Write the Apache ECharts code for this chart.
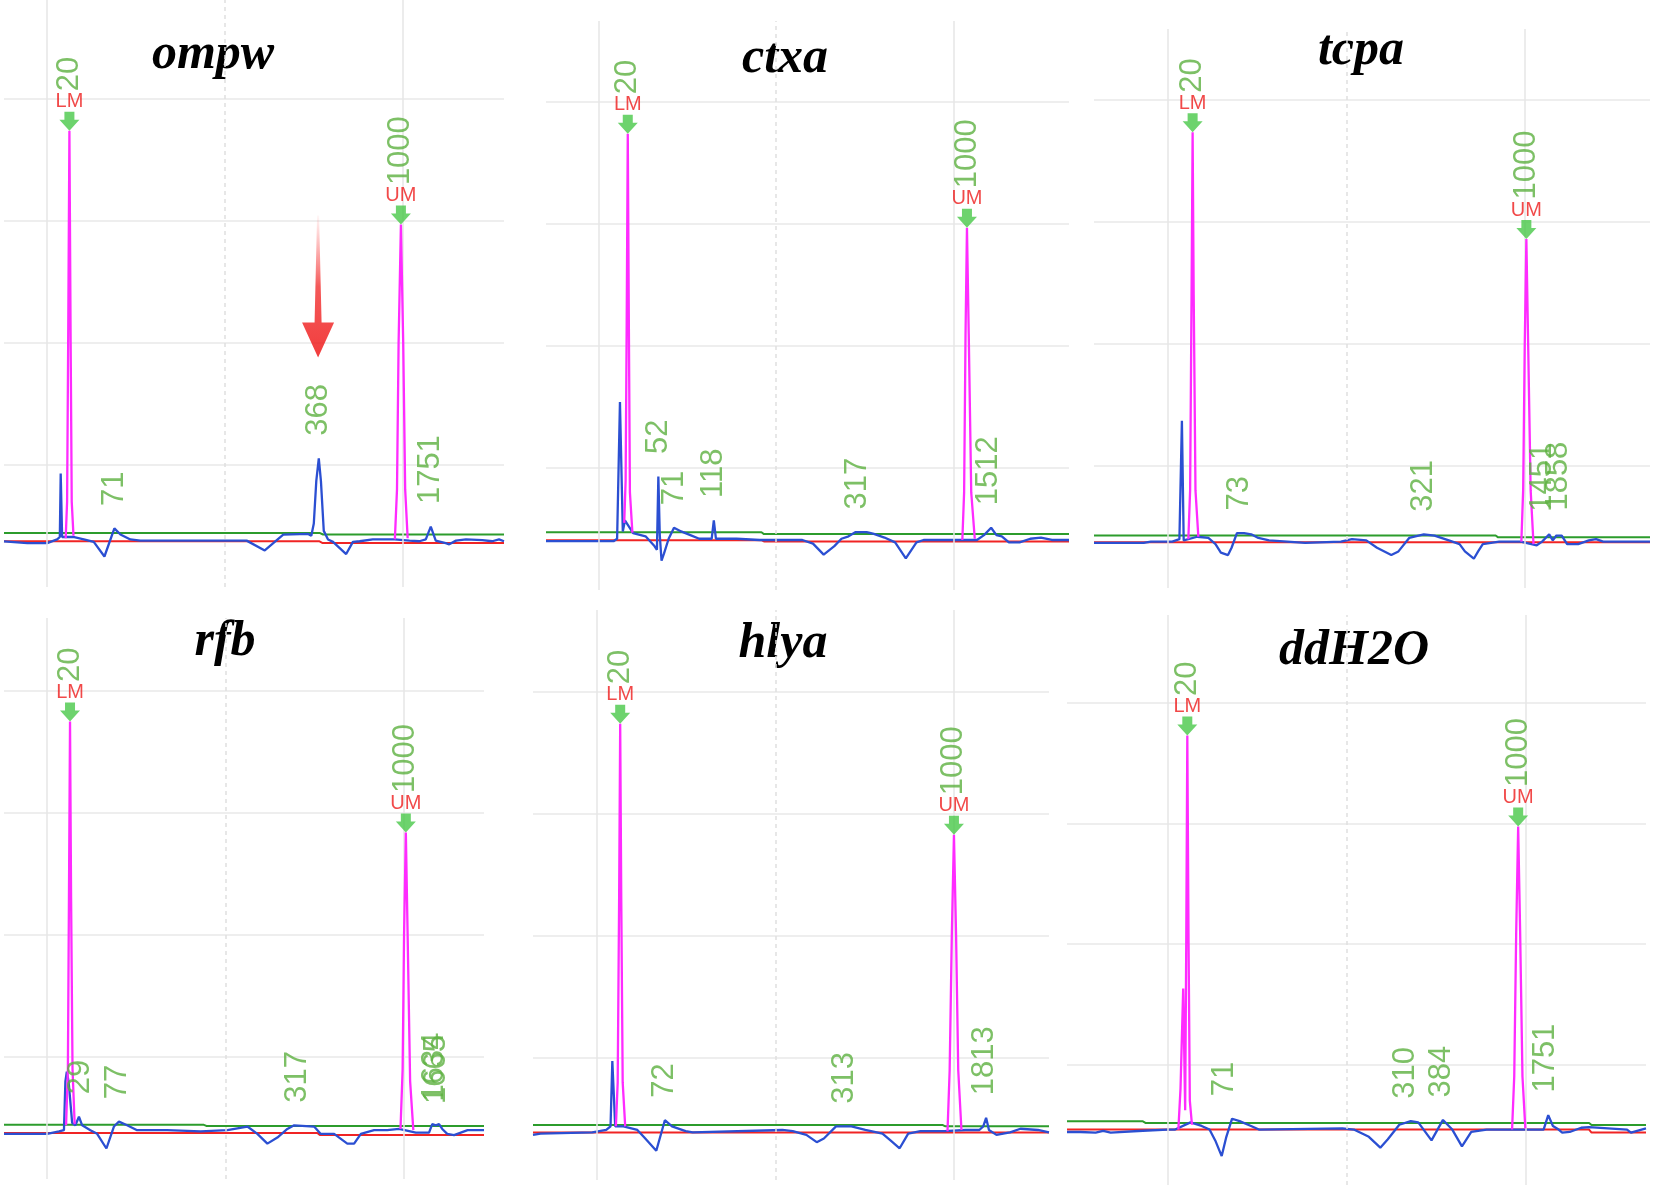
<!DOCTYPE html>
<html>
<head>
<meta charset="utf-8">
<title>Electropherograms</title>
<script src="https://cdn.jsdelivr.net/npm/echarts@6/dist/echarts.min.js"></script>
<style>
    html, body { margin: 0; padding: 0; background: #fff; }
    #chart { width: 1653px; height: 1185px; }
</style>
</head>
<body>
<div id="chart"></div>
<script>
// ---- data (x: migration time, y: fluorescence, one grid step = 1) ----
var panelNames = ['ompw', 'ctxa', 'tcpa', 'rfb', 'hlya', 'ddH2O'];
var xRanges = [[87.85, 228.5], [85.3, 232.4], [79.4, 235.0], [87.9, 222.4], [82.2, 226.6], [71.9, 233.6]];
var yMaxes = [4.811, 4.664, 4.582, 4.598, 4.672, 4.730];
var vGridMajor = [100, 200];
var vGridMinor = [150];

// ompw
var ompwBlue = [[87.85,0.374],[94.4,0.36],[100,0.36],[102.8,0.39],[103.55,0.41],[103.8,0.93],[104.2,0.41],[105.6,0.41],[107.3,0.41],[110.3,0.39],[113.1,0.37],[116.1,0.25],[118.9,0.48],[120.6,0.43],[123.4,0.39],[126.2,0.38],[156.1,0.38],[161.2,0.30],[166.4,0.43],[173.4,0.435],[174.3,0.42],[175.0,0.52],[175.7,0.87],[176.4,1.055],[177.0,0.87],[177.8,0.46],[179.0,0.39],[180.4,0.37],[184.1,0.27],[186.0,0.37],[187.9,0.375],[191.6,0.39],[197.7,0.39],[201.9,0.38],[204.7,0.375],[206.5,0.39],[207.9,0.495],[209.3,0.38],[212.1,0.36],[213.1,0.35],[215.0,0.38],[217.8,0.39],[222.4,0.385],[225.2,0.375],[227.1,0.39],[228.5,0.375]];
var ompwLM = [[105.2,0.40],[105.6,0.7],[105.9,2.0],[106.25,3.74],[106.6,2.0],[106.9,0.7],[107.4,0.42]];
var ompwUM = [[197.8,0.39],[198.4,0.8],[198.85,2.0],[199.5,2.97],[200.15,2.0],[200.7,0.8],[201.4,0.40]];
var ompwGreen = [[87.85,0.443],[176.6,0.443],[177.6,0.43],[228.5,0.43]];
var ompwRed = [[87.85,0.374],[176.6,0.374],[177.5,0.36],[228.5,0.36]];
var ompwPeaks = [[118.9,0.48,'71'],[176.4,1.055,'368'],[207.9,0.495,'1751']];
var ompwArrow = [176.2, 1.88];

// ctxa
var ctxaBlue = [[85.3,0.40],[104.3,0.40],[105.3,0.42],[106.1,1.54],[106.5,1.54],[106.9,0.48],[107.5,0.57],[109.8,0.467],[113.3,0.44],[115.8,0.36],[116.5,0.33],[116.9,0.93],[117.3,0.45],[117.8,0.24],[118.5,0.30],[119.8,0.42],[121.3,0.51],[123.3,0.48],[125.9,0.45],[128.4,0.42],[131.9,0.42],[132.5,0.57],[133.1,0.42],[138.9,0.42],[145.4,0.41],[153.4,0.41],[157.4,0.41],[160.4,0.38],[163.4,0.29],[166.4,0.36],[168.4,0.42],[170.4,0.44],[172.4,0.475],[175.5,0.475],[177.5,0.46],[180.5,0.43],[183.5,0.39],[186.5,0.26],[189.5,0.39],[191.5,0.41],[201.5,0.41],[206.5,0.41],[208.5,0.45],[210.5,0.51],[212.0,0.45],[213.5,0.44],[215.5,0.39],[218.5,0.39],[221.5,0.42],[224.5,0.43],[227.6,0.41],[230.6,0.41],[232.4,0.41]];
var ctxaLM = [[107.3,0.55],[107.7,0.9],[108.0,2.2],[108.3,3.74],[108.6,2.2],[108.9,0.8],[109.6,0.47]];
var ctxaUM = [[202.4,0.41],[202.9,0.8],[203.3,2.1],[203.7,2.97],[204.2,2.1],[204.9,0.8],[205.9,0.42]];
var ctxaGreen = [[85.3,0.473],[145.9,0.473],[146.6,0.458],[232.4,0.458]];
var ctxaRed = [[85.3,0.407],[146.0,0.407],[146.6,0.398],[232.4,0.398]];
var ctxaPeaks = [[116.9,0.93,'52'],[121.3,0.51,'71'],[132.5,0.57,'118'],[173.0,0.475,'317'],[209.8,0.51,'1512']];

// tcpa
var tcpaBlue = [[79.4,0.37],[93.3,0.37],[95.3,0.38],[101.3,0.38],[103.3,0.40],[104.0,1.37],[104.5,0.39],[108.3,0.42],[111.4,0.41],[113.4,0.36],[114.9,0.29],[116.9,0.27],[117.9,0.33],[119.4,0.45],[121.4,0.45],[123.4,0.44],[125.4,0.41],[128.4,0.39],[138.5,0.37],[148.5,0.38],[151.6,0.40],[155.6,0.39],[158.6,0.33],[162.6,0.27],[164.6,0.30],[167.6,0.41],[171.7,0.44],[174.7,0.43],[178.7,0.39],[181.7,0.36],[183.2,0.30],[185.7,0.24],[186.9,0.30],[188.2,0.36],[192.8,0.38],[198.8,0.38],[203.3,0.35],[204.8,0.38],[206.8,0.44],[207.8,0.39],[208.8,0.43],[210.3,0.43],[211.8,0.36],[214.9,0.36],[217.9,0.39],[219.9,0.40],[221.9,0.38],[235.0,0.38]];
var tcpaLM = [[105.8,0.40],[106.3,0.8],[106.7,2.4],[107.0,3.735],[107.3,2.4],[107.8,0.8],[108.6,0.42]];
var tcpaUM = [[199.0,0.38],[199.5,0.8],[199.95,2.0],[200.4,2.86],[200.9,2.0],[201.6,0.8],[202.4,0.36]];
var tcpaGreen = [[79.4,0.43],[191.8,0.43],[192.5,0.415],[235.0,0.415]];
var tcpaRed = [[79.4,0.376],[235.0,0.376]];
var tcpaPeaks = [[120.0,0.45,'73'],[171.5,0.44,'321'],[205.0,0.44,'1451'],[209.4,0.45,'1858']];

// rfb
var rfbBlue = [[87.9,0.37],[94.4,0.37],[100,0.37],[103.3,0.39],[104.7,0.40],[105.1,0.80],[105.5,0.88],[106.0,0.80],[107.0,0.46],[107.9,0.44],[108.9,0.51],[109.8,0.44],[112.1,0.40],[114.0,0.37],[116.6,0.25],[118.7,0.43],[120.1,0.47],[122.4,0.44],[125.2,0.40],[133.6,0.40],[143.0,0.39],[150.5,0.40],[156.1,0.43],[158.9,0.37],[161.7,0.29],[164.5,0.34],[167.3,0.41],[169.2,0.44],[174.8,0.43],[176.6,0.37],[180.4,0.37],[184.1,0.29],[186.0,0.29],[187.9,0.37],[191.6,0.40],[195.3,0.40],[198.6,0.41],[203.3,0.38],[207.0,0.38],[207.9,0.45],[208.9,0.44],[209.8,0.45],[210.7,0.41],[212.1,0.37],[214.0,0.36],[215.9,0.38],[217.8,0.40],[222.4,0.40]];
var rfbLM = [[105.3,0.44],[105.8,0.9],[106.1,2.3],[106.4,3.75],[106.7,2.3],[107.1,0.9],[107.7,0.45]];
var rfbUM = [[199.0,0.41],[199.6,0.9],[200.0,2.0],[200.5,2.84],[201.0,2.0],[201.7,0.8],[202.6,0.40]];
var rfbGreen = [[87.9,0.444],[143.9,0.444],[144.6,0.435],[222.4,0.435]];
var rfbRed = [[87.9,0.377],[175.7,0.377],[176.4,0.36],[222.4,0.36]];
var rfbPeaks = [[109.3,0.51,'29'],[119.6,0.47,'77'],[170.1,0.44,'317'],[208.4,0.45,'1634'],[209.0,0.43,'1665']];

// hlya
var hlyaBlue = [[82.2,0.37],[84.3,0.38],[98.8,0.39],[102.7,0.41],[103.9,0.44],[104.4,0.975],[104.8,0.975],[105.2,0.44],[107.5,0.44],[111.4,0.41],[113.3,0.35],[116.7,0.24],[119.1,0.49],[121.1,0.44],[124.9,0.40],[126.9,0.39],[152.0,0.41],[154.9,0.40],[158.7,0.37],[161.6,0.31],[163.6,0.34],[167.0,0.44],[171.3,0.44],[175.2,0.41],[180.0,0.38],[182.4,0.32],[184.8,0.26],[187.2,0.38],[190.6,0.40],[197.4,0.40],[203.2,0.41],[207.1,0.41],[208.2,0.44],[209.0,0.51],[209.8,0.41],[211.9,0.37],[215.7,0.39],[218.6,0.42],[223.5,0.41],[226.6,0.39]];
var hlyaLM = [[105.4,0.44],[105.9,0.8],[106.3,2.3],[106.6,3.74],[106.9,2.3],[107.3,0.8],[108.0,0.44]];
var hlyaUM = [[198.2,0.40],[198.8,0.9],[199.4,2.0],[200.0,2.83],[200.6,2.0],[201.2,0.9],[202.1,0.41]];
var hlyaGreen = [[82.2,0.45],[196.9,0.45],[197.6,0.44],[226.6,0.44]];
var hlyaRed = [[82.2,0.39],[226.6,0.39]];
var hlyaPeaks = [[119.1,0.49,'72'],[169.4,0.44,'313'],[208.5,0.51,'1813']];

// ddH2O
var ddh2oBlue = [[71.9,0.44],[75.6,0.44],[79.9,0.435],[82.0,0.45],[84.1,0.435],[93.1,0.45],[100,0.46],[102.1,0.46],[106.4,0.52],[109.5,0.49],[111.7,0.46],[113.3,0.37],[115.1,0.24],[116.4,0.40],[118.0,0.55],[120.1,0.53],[123.3,0.49],[125.5,0.46],[148.8,0.47],[152.0,0.46],[156.2,0.40],[159.4,0.31],[161.5,0.38],[164.7,0.50],[167.9,0.53],[170.0,0.52],[173.7,0.37],[176.9,0.54],[179.5,0.46],[182.2,0.32],[184.8,0.44],[189.1,0.46],[195.4,0.46],[200.7,0.46],[205.0,0.46],[206.3,0.58],[207.6,0.49],[209.2,0.46],[210.2,0.435],[212.3,0.44],[215.5,0.475],[217.7,0.48],[228.3,0.46],[229.4,0.435],[233.6,0.47]];
var ddh2oLM = [[103.0,0.46],[103.6,0.8],[104.35,1.63],[104.9,0.62],[105.2,2.0],[105.5,3.73],[105.85,2.0],[106.2,0.7],[106.8,0.5]];
var ddh2oUM = [[196.2,0.46],[196.8,0.9],[197.35,2.1],[197.9,2.975],[198.45,2.1],[199.1,0.9],[199.9,0.47]];
var ddh2oGreen = [[71.9,0.528],[93.1,0.528],[93.8,0.515],[217.7,0.515],[218.4,0.497],[233.6,0.497]];
var ddh2oRed = [[71.9,0.46],[217.7,0.46],[218.4,0.435],[233.6,0.435]];
var ddh2oPeaks = [[116.0,0.55,'71'],[166.3,0.53,'310'],[176.4,0.54,'384'],[205.5,0.58,'1751']];

// ladder markers: [x, peak top, marker name, size]
var ompwMarkers = [[106.25,3.74,'LM','20'],[199.5,2.97,'UM','1000']];
var ctxaMarkers = [[108.3,3.74,'LM','20'],[203.7,2.97,'UM','1000']];
var tcpaMarkers = [[107.0,3.735,'LM','20'],[200.4,2.86,'UM','1000']];
var rfbMarkers = [[106.4,3.75,'LM','20'],[200.5,2.84,'UM','1000']];
var hlyaMarkers = [[106.6,3.74,'LM','20'],[200.0,2.83,'UM','1000']];
var ddh2oMarkers = [[105.5,3.73,'LM','20'],[197.9,2.975,'UM','1000']];

var blues = [ompwBlue, ctxaBlue, tcpaBlue, rfbBlue, hlyaBlue, ddh2oBlue];
var lms = [ompwLM, ctxaLM, tcpaLM, rfbLM, hlyaLM, ddh2oLM];
var ums = [ompwUM, ctxaUM, tcpaUM, rfbUM, hlyaUM, ddh2oUM];
var greens = [ompwGreen, ctxaGreen, tcpaGreen, rfbGreen, hlyaGreen, ddh2oGreen];
var reds = [ompwRed, ctxaRed, tcpaRed, rfbRed, hlyaRed, ddh2oRed];
var peaks = [ompwPeaks, ctxaPeaks, tcpaPeaks, rfbPeaks, hlyaPeaks, ddh2oPeaks];
var markers = [ompwMarkers, ctxaMarkers, tcpaMarkers, rfbMarkers, hlyaMarkers, ddh2oMarkers];

// ---- layout ----
var boxes = [
    { left: 4, top: 0, width: 500, height: 587 },
    { left: 546, top: 21, width: 523, height: 569 },
    { left: 1094, top: 29, width: 556, height: 559 },
    { left: 4, top: 618, width: 480, height: 561 },
    { left: 533, top: 610, width: 516, height: 570 },
    { left: 1067, top: 615, width: 579, height: 577 }
];
var titlePos = [[213, 55], [785, 59], [1361, 51], [225, 642], [783, 644], [1354, 651]];

var BLUE = '#2b4fd2', MAGENTA = '#ff2bff', GREEN = '#2c9c2c', RED = '#f02424';
var LABEL_GREEN = '#5cb040', ARROW_GREEN = '#48c848', MARK_RED = '#ee1c1c';

var chart = echarts.init(document.getElementById('chart'));
var grids = [], xAxes = [], yAxes = [], series = [], graphics = [];

panelNames.forEach(function (name, i) {
    grids.push(boxes[i]);
    xAxes.push({
        type: 'value', gridIndex: i, min: xRanges[i][0], max: xRanges[i][1],
        axisLine: { show: false }, axisTick: { show: false }, axisLabel: { show: false },
        splitLine: { show: false }
    });
    yAxes.push({
        type: 'value', gridIndex: i, min: 0, max: yMaxes[i], interval: 1,
        axisLine: { show: false }, axisTick: { show: false }, axisLabel: { show: false },
        splitLine: { show: true, showMinLine: false, showMaxLine: false, lineStyle: { color: '#e8e8e8', width: 1.5 } }
    });

    var vLines = vGridMajor.map(function (v) {
        return { xAxis: v, lineStyle: { color: '#e6e6e6', width: 1.5, type: 'solid' } };
    }).concat(vGridMinor.map(function (v) {
        return { xAxis: v, lineStyle: { color: '#e0e0e0', width: 1.5, type: [4, 4] } };
    }));

    var base = { xAxisIndex: i, yAxisIndex: i, type: 'line', symbol: 'none', silent: true, animation: false };

    series.push(Object.assign({}, base, {
        name: name + ' baseline', data: reds[i], z: 2,
        lineStyle: { color: RED, width: 2 },
        markLine: { silent: true, symbol: ['none', 'none'], label: { show: false }, animation: false, data: vLines }
    }));
    series.push(Object.assign({}, base, { name: name + ' threshold', data: greens[i], z: 3, lineStyle: { color: GREEN, width: 2 } }));
    series.push(Object.assign({}, base, { name: name, data: blues[i], z: 4, lineStyle: { color: BLUE, width: 2.3 } }));
    series.push(Object.assign({}, base, { name: name + ' LM', data: lms[i], z: 5, lineStyle: { color: MAGENTA, width: 2.3 } }));
    series.push(Object.assign({}, base, { name: name + ' UM', data: ums[i], z: 5, lineStyle: { color: MAGENTA, width: 2.3 } }));

    // size labels of sample peaks
    series.push({
        type: 'scatter', xAxisIndex: i, yAxisIndex: i, silent: true, animation: false, z: 6,
        symbol: 'circle', symbolSize: 1, itemStyle: { color: 'rgba(0,0,0,0)' },
        data: peaks[i].map(function (p) { return { value: [p[0], p[1]], name: p[2] }; }),
        label: {
            show: true, position: 'top', distance: 22, rotate: 90, align: 'left', verticalAlign: 'middle',
            formatter: '{b}', color: LABEL_GREEN, fontSize: 31, fontFamily: 'Liberation Sans'
        }
    });
    // ladder arrows with LM / UM
    series.push({
        type: 'scatter', xAxisIndex: i, yAxisIndex: i, silent: true, animation: false, z: 7,
        symbol: 'path://M5,0 L15,0 L15,8 L20,8 L10,19 L0,8 L5,8 Z', symbolSize: [20, 19], symbolOffset: [0, -9.5],
        itemStyle: { color: ARROW_GREEN },
        data: markers[i].map(function (m) { return { value: [m[0], m[1]], name: m[2] }; }),
        label: { show: true, position: 'top', distance: 0, formatter: '{b}', color: MARK_RED, fontSize: 20, fontFamily: 'Liberation Sans' }
    });
    // ladder sizes
    series.push({
        type: 'scatter', xAxisIndex: i, yAxisIndex: i, silent: true, animation: false, z: 7,
        symbol: 'circle', symbolSize: 1, itemStyle: { color: 'rgba(0,0,0,0)' },
        data: markers[i].map(function (m) { return { value: [m[0], m[1]], name: m[3] }; }),
        label: {
            show: true, position: 'top', distance: 39, rotate: 90, align: 'left', verticalAlign: 'middle',
            formatter: '{b}', color: LABEL_GREEN, fontSize: 31, fontFamily: 'Liberation Sans'
        }
    });

    graphics.push({
        type: 'text', x: titlePos[i][0], y: titlePos[i][1], silent: true,
        style: {
            text: name, align: 'center', verticalAlign: 'middle', fill: '#000',
            font: 'italic bold 50px "Liberation Serif", "DejaVu Serif", serif'
        }
    });
});

// red pointer at the ompw target band
series.push({
    type: 'scatter', xAxisIndex: 0, yAxisIndex: 0, silent: true, animation: false, z: 8,
    symbol: 'path://M15,0 L17,0 L19.5,107 L32,107 L16,142 L0,107 L12.5,107 Z',
    symbolSize: [32, 142], symbolOffset: [0, '-50%'],
    itemStyle: {
        color: new echarts.graphic.LinearGradient(0, 0, 0, 1, [
            { offset: 0, color: 'rgba(255,60,60,0.05)' },
            { offset: 0.5, color: 'rgba(240,25,25,0.9)' },
            { offset: 1, color: '#ee0c0c' }
        ])
    },
    data: [ompwArrow]
});

chart.setOption({
    animation: false,
    backgroundColor: '#fff',
    grid: grids,
    xAxis: xAxes,
    yAxis: yAxes,
    series: series,
    graphic: graphics
});
</script>
</body>
</html>
